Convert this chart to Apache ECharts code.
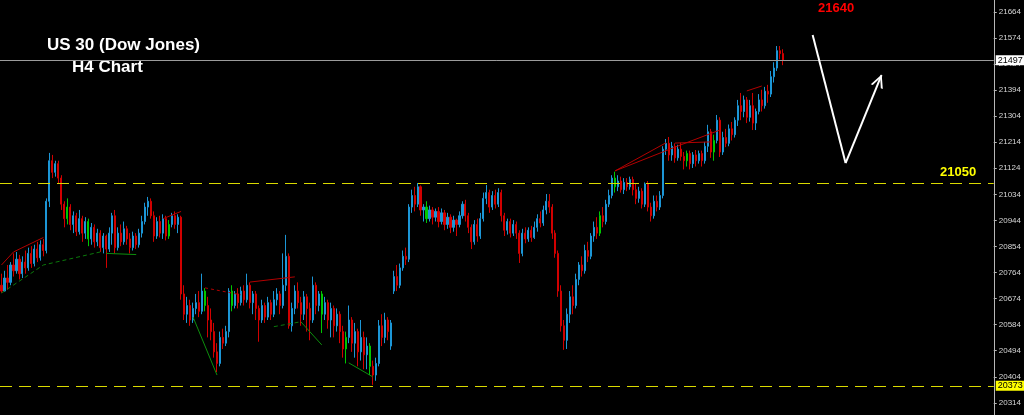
<!DOCTYPE html>
<html><head><meta charset="utf-8">
<script src="https://cdn.jsdelivr.net/npm/echarts@6/dist/echarts.min.js"></script>
<style>html,body{margin:0;padding:0;background:#000;overflow:hidden}#c{width:1024px;height:415px}</style>
</head><body><div id="c"></div>
<script>
// [open, close, low, high]
const candles = [
[20720,20700,20694,20760],[20700,20745,20698,20770],[20745,20730,20705,20790],[20730,20790,20720,20800],[20790,20770,20750,20830],
[20770,20810,20760,20835],[20810,20760,20740,20825],[20760,20800,20745,20820],[20800,20780,20760,20840],[20780,20830,20770,20850],
[20830,20795,20780,20855],[20795,20845,20785,20860],[20845,20815,20800,20870],[20815,20860,20805,20875],[20860,20840,20820,20880],
[20840,21010,20830,21020],[21010,21150,20990,21177],[21150,21110,21090,21170],[21110,21140,21095,21150],[21140,21090,21070,21150],
[21090,21000,20980,21100],[21000,20950,20920,21010],[20950,20990,20930,21020],[20990,20930,20910,21000],[20930,20960,20900,20975],
[20960,20905,20890,20970],[20905,20950,20895,20980],[20950,20900,20870,20960],[20900,20940,20880,20955],[20940,20880,20855,20950],
[20880,20920,20860,20935],[20920,20870,20850,20930],[20870,20900,20855,20915],[20900,20850,20835,20910],[20850,20890,20830,20900],
[20890,20845,20780,20895],[20845,20900,20835,20920],[20900,20960,20860,20970],[20960,20850,20830,20980],[20850,20900,20840,20920],
[20900,20870,20855,20930],[20870,20915,20860,20940],[20915,20880,20860,20925],[20880,20850,20830,20900],[20850,20890,20840,20905],
[20890,20860,20845,20900],[20860,20900,20850,20915],[20900,20940,20885,20960],[20940,20990,20930,21005],[20990,21010,20960,21025],
[21010,20960,20950,21020],[20960,20890,20870,20975],[20890,20940,20880,20955],[20940,20900,20885,20960],[20900,20950,20880,20965],
[20950,20890,20875,20960],[20890,20930,20880,20945],[20930,20960,20920,20970],[20960,20930,20915,20975],[20930,20955,20900,20965],
[20955,20690,20670,20960],[20690,20620,20600,20720],[20620,20650,20590,20680],[20650,20600,20580,20670],[20600,20640,20590,20660],
[20640,20660,20620,20690],[20660,20630,20610,20700],[20630,20700,20620,20760],[20700,20650,20630,20710],[20650,20600,20540,20680],
[20600,20560,20530,20640],[20560,20490,20470,20590],[20490,20450,20420,20520],[20450,20540,20440,20560],[20540,20520,20500,20570],
[20520,20560,20510,20580],[20560,20700,20540,20710],[20700,20650,20630,20720],[20650,20690,20640,20700],[20690,20660,20640,20710],
[20660,20700,20650,20715],[20700,20670,20650,20720],[20670,20720,20660,20760],[20720,20660,20640,20730],[20660,20690,20620,20700],
[20690,20640,20600,20700],[20640,20600,20525,20650],[20600,20650,20590,20670],[20650,20610,20590,20660],[20610,20660,20600,20680],
[20660,20620,20600,20670],[20620,20670,20610,20700],[20670,20690,20650,20710],[20690,20650,20620,20700],[20650,20720,20640,20830],
[20720,20820,20700,20894],[20820,20580,20570,20830],[20580,20640,20560,20660],[20640,20700,20620,20720],[20700,20660,20640,20730],
[20660,20620,20580,20680],[20620,20680,20600,20700],[20680,20640,20560,20690],[20640,20600,20530,20660],[20600,20720,20590,20750],
[20720,20650,20620,20730],[20650,20690,20630,20700],[20690,20620,20555,20700],[20620,20660,20600,20680],[20660,20600,20570,20670],
[20600,20640,20540,20660],[20640,20580,20540,20650],[20580,20620,20560,20640],[20620,20560,20520,20630],[20560,20500,20470,20580],
[20500,20540,20450,20560],[20540,20600,20520,20650],[20600,20520,20490,20610],[20520,20560,20470,20590],[20560,20490,20440,20570],
[20490,20540,20460,20600],[20540,20480,20430,20560],[20480,20510,20430,20540],[20510,20440,20410,20520],[20440,20410,20376,20460],
[20410,20450,20390,20470],[20450,20580,20440,20600],[20580,20540,20510,20620],[20540,20600,20520,20625],[20600,20560,20530,20610],
[20510,20590,20497,20600],[20700,20750,20690,20770],[20750,20720,20700,20790],[20720,20780,20710,20795],[20780,20820,20770,20840],
[20820,20810,20790,20850],[20810,20990,20800,21000],[20990,21030,20970,21050],[21030,21000,20975,21060],[21000,21060,20990,21073],
[21060,20980,20960,21065],[20980,20990,20940,21000],[20990,20950,20935,21010],[20950,20980,20940,20995],[20980,20955,20930,20990],
[20955,20975,20940,20985],[20975,20940,20920,20990],[20940,20970,20930,20985],[20970,20930,20910,20980],[20930,20955,20915,20970],
[20955,20920,20900,20965],[20920,20945,20905,20960],[20945,20930,20890,20950],[20930,20960,20920,20975],[20960,21000,20950,21010],
[21000,20960,20940,21015],[20960,20920,20900,20970],[20920,20870,20845,20930],[20870,20930,20860,20945],[20930,20890,20870,20950],
[20890,20950,20880,20970],[20950,21020,20940,21040],[21020,21040,21000,21066],[21040,20990,20970,21050],[20990,21030,20980,21045],
[21030,21000,20985,21050],[21000,21040,20990,21055],[21040,20960,20940,21050],[20960,20910,20890,20970],[20910,20940,20895,20950],
[20940,20900,20885,20950],[20900,20930,20890,20945],[20930,20900,20880,20940],[20900,20830,20797,20910],[20830,20900,20820,20915],
[20900,20880,20865,20920],[20880,20910,20870,20920],[20910,20885,20870,20925],[20885,20920,20880,20940],[20920,20950,20905,20965],
[20950,20935,20920,20975],[20935,20980,20925,20995],[20980,21010,20965,21035],[21010,20990,20970,21035],[20990,20900,20880,21000],
[20900,20830,20815,20910],[20830,20700,20680,20840],[20700,20580,20560,20720],[20580,20530,20497,20600],[20530,20620,20500,20640],
[20620,20680,20590,20700],[20680,20650,20620,20720],[20650,20740,20640,20760],[20740,20790,20720,20800],[20790,20770,20750,20820],
[20770,20840,20760,20860],[20840,20820,20800,20870],[20820,20890,20810,20900],[20890,20920,20870,20940],[20920,20900,20880,20955],
[20900,20960,20890,20975],[20960,20940,20920,20990],[20940,21000,20930,21015],[21000,21030,20990,21050],[21030,21090,21020,21100],
[21090,21060,21040,21112],[21060,21080,21045,21100],[21080,21050,21040,21095],[21050,21075,21035,21090],[21075,21060,21045,21090],
[21060,21085,21050,21095],[21085,21050,21030,21095],[21050,21020,21000,21070],[21020,21045,21005,21060],[21045,21000,20985,21055],
[21000,21070,20990,21075],[21070,20990,20975,21080],[20990,20960,20940,21005],[20960,21010,20950,21030],[21010,20990,20975,21030],
[20990,21030,20980,21045],[21030,21190,21020,21200],[21190,21210,21170,21225],[21210,21170,21150,21232],[21170,21200,21150,21215],
[21200,21160,21143,21210],[21160,21190,21150,21205],[21190,21165,21150,21212],[21165,21150,21120,21180],[21150,21175,21130,21185],
[21175,21140,21120,21185],[21140,21170,21125,21180],[21170,21150,21130,21187],[21150,21175,21140,21185],[21175,21150,21130,21185],
[21150,21200,21140,21215],[21200,21250,21180,21274],[21250,21180,21160,21260],[21180,21220,21150,21240],[21220,21290,21210,21308],
[21290,21180,21163,21300],[21180,21230,21170,21250],[21230,21210,21197,21260],[21210,21260,21200,21275],[21260,21240,21220,21284],
[21240,21290,21230,21300],[21290,21340,21270,21360],[21340,21320,21290,21384],[21320,21360,21300,21375],[21360,21300,21280,21370],
[21300,21340,21285,21360],[21340,21280,21256,21384],[21280,21320,21256,21330],[21320,21360,21310,21380],[21360,21340,21320,21395],
[21340,21390,21330,21405],[21390,21380,21350,21412],[21380,21440,21370,21460],[21440,21470,21420,21490],[21470,21530,21460,21546],
[21530,21520,21500,21546],[21520,21497,21480,21535]
];
const greenCandles = [22,29,56,68,77,107,115,123,142,200,205,229,238];
const futureSlots = 70;
const yTickLabels = [20314,20404,20494,20584,20674,20764,20854,20944,21034,21124,21214,21304,21394,21484,21574,21664];
const priceLevel = 21497;
const resistanceLevel = 21072;
const supportLevel = 20373;
const resistanceText = '21050';
const targetText = '21640';
const titleLine1 = 'US 30 (Dow Jones)';
const titleLine2 = 'H4 Chart';
const forecastPath = [[271,21584],[282,21142],[294,21446]];
const redTrendLines = [
  [[0,20790],[4,20835],[14,20885]],
  [[54,20950],[60,20975]],
  [[83,20731],[98,20749]],
  [[205,21115],[222,21212]],
  [[205,21115],[226,21201],[240,21256]],
  [[225,21211],[237,21215]],
  [[249,21391],[254,21408]]
];
const redDottedLines = [ [[68,20711],[80,20687]] ];
const greenDashedLines = [
  [[0,20693],[14,20790],[33,20835]],
  [[91,20577],[100,20594]]
];
const greenSolidLines = [
  [[35,20830],[45,20826]],
  [[64,20610],[72,20410]],
  [[100,20594],[107,20514]],
  [[116,20452],[124,20404]]
];

const UP = '#1c96d6', DOWN = '#d10000', GREEN = '#00c800', YEL = '#dada00';
const total = candles.length + futureSlots;
const cats = Array.from({length: total}, (_, i) => String(i));
const candleData = candles.map((c, i) => greenCandles.includes(i)
  ? {value: c, itemStyle: {color: GREEN, color0: GREEN, borderColor: GREEN, borderColor0: GREEN}}
  : c);

function lineSeries(pts, color, type, width) {
  return {type: 'line', data: pts, showSymbol: false, symbol: 'none', silent: true, animation: false,
    lineStyle: {color: color, width: width || 1, type: type || 'solid'}, z: 3};
}
const axisBox = {show: true, position: 'end', distance: 2, fontSize: 9, fontFamily: 'Liberation Sans', padding: [1, 2, 0, 2], color: '#000'};
const series = [{
  type: 'candlestick', data: candleData, barWidth: 1.6, animation: false, silent: true,
  itemStyle: {color: UP, color0: DOWN, borderColor: UP, borderColor0: DOWN, borderWidth: 1},
  markLine: {
    silent: true, symbol: 'none', animation: false,
    lineStyle: {color: '#9c9c9c', type: 'solid', width: 1},
    label: Object.assign({}, axisBox, {formatter: String(priceLevel), backgroundColor: '#ffffff'}),
    data: [{yAxis: priceLevel}]
  }
}, {
  type: 'line', data: [], silent: true, animation: false,
  markLine: {
    silent: true, symbol: 'none', animation: false,
    lineStyle: {color: YEL, type: [12, 7], width: 1.2, opacity: 1},
    label: {show: false},
    data: [{yAxis: resistanceLevel}]
  }
}, {
  type: 'line', data: [], silent: true, animation: false,
  markLine: {
    silent: true, symbol: 'none', animation: false,
    lineStyle: {color: YEL, type: [12, 7], width: 1.2, opacity: 1},
    label: Object.assign({}, axisBox, {formatter: String(supportLevel), backgroundColor: '#ffff00'}),
    data: [{yAxis: supportLevel}]
  }
}];
redTrendLines.forEach(p => series.push(lineSeries(p, '#b30000')));
redDottedLines.forEach(p => series.push(lineSeries(p, '#b30000', [3, 3])));
greenDashedLines.forEach(p => series.push(lineSeries(p, '#0b7a0b', [4, 3])));
greenSolidLines.forEach(p => series.push(lineSeries(p, '#0d8f0d')));
series.push({
  type: 'line', data: [], silent: true, animation: false,
  markLine: {
    silent: true, animation: false,
    lineStyle: {color: '#ffffff', width: 2, type: 'solid'},
    label: {show: false},
    data: [
      [{coord: forecastPath[0], symbol: 'none'}, {coord: forecastPath[1], symbol: 'none'}],
      [{coord: forecastPath[1], symbol: 'none'},
       {coord: forecastPath[2], symbol: 'path://M0,12 L6,0 L12,12 L10,12 L6,3.5 L2,12 Z', symbolSize: [13, 13], symbolOffset: [0, 6]}]
    ]
  }
});

const chart = echarts.init(document.getElementById('c'), null, {renderer: 'canvas'});
chart.setOption({
  backgroundColor: '#000000',
  animation: false,
  grid: {left: 0, right: 29, top: 0, bottom: 0, containLabel: false},
  xAxis: {type: 'category', data: cats, boundaryGap: true, show: false},
  yAxis: {
    type: 'value', position: 'right', min: 20272, max: 21705, scale: true,
    axisLine: {show: true, lineStyle: {color: '#b8b8b8', width: 1}},
    axisTick: {show: true, inside: false, length: 3, lineStyle: {color: '#b8b8b8'}, customValues: yTickLabels},
    axisLabel: {show: true, customValues: yTickLabels, formatter: v => String(v), color: '#d6d6d6', fontSize: 8, fontFamily: 'Liberation Sans', margin: 5},
    splitLine: {show: false}
  },
  graphic: [
    {type: 'text', left: 47, top: 37, style: {text: titleLine1, fill: '#ffffff', font: 'bold 17px "Liberation Sans"'}},
    {type: 'text', left: 72, top: 59, style: {text: titleLine2, fill: '#ffffff', font: 'bold 17px "Liberation Sans"'}},
    {type: 'text', left: 818, top: 2, style: {text: targetText, fill: '#ff0000', font: 'bold 13px "Liberation Sans"'}},
    {type: 'text', left: 940, top: 166, style: {text: resistanceText, fill: '#ffff00', font: 'bold 13px "Liberation Sans"'}}
  ],
  series: series
});
</script>
</body></html>
